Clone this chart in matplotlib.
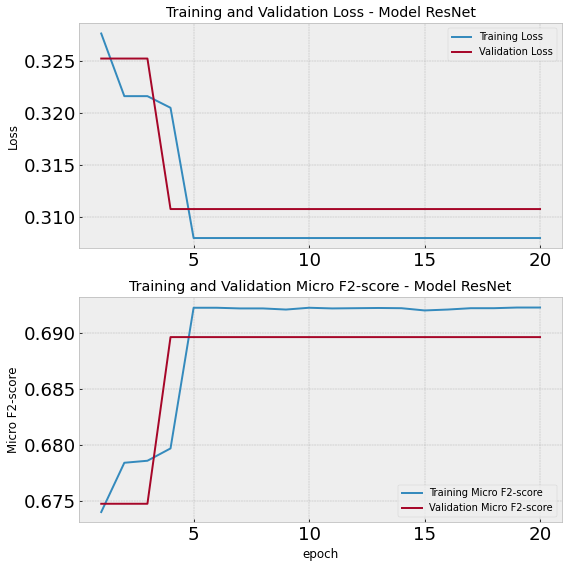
import matplotlib

matplotlib.use("Agg")
import matplotlib.pyplot as plt
from matplotlib.ticker import MultipleLocator


MODEL_NAME = "ResNet"
epochs = list(range(1, 21))

train_loss = [0.32763, 0.3216, 0.3216, 0.32048] + [0.30794] * 16
val_loss = [0.32522, 0.32522, 0.32522] + [0.31073] * 17

train_f2 = [
    0.67402, 0.67842, 0.6786, 0.6797, 0.69226,
    0.69226, 0.6922, 0.6922, 0.6921, 0.69226,
    0.6922, 0.69222, 0.69224, 0.69222, 0.69202,
    0.6921, 0.69222, 0.69222, 0.69228, 0.69228,
]
val_f2 = [0.67476, 0.67476, 0.67476] + [0.68964] * 17


def plot_panel(axis, train, val, metric, ylabel, legend_loc):
    axis.plot(epochs, train, label=f"Training {metric}")
    axis.plot(epochs, val, label=f"Validation {metric}")
    axis.set_title(f"Training and Validation {metric} - Model {MODEL_NAME}", fontsize=14.4)
    axis.set_ylabel(ylabel, fontsize=12)
    axis.xaxis.set_major_locator(MultipleLocator(5))
    axis.tick_params(axis="both", labelsize=18.5)
    axis.legend(loc=legend_loc, fontsize=10)


plt.style.use("bmh")
figure, axes = plt.subplots(2, 1, figsize=(8, 8), dpi=71)

plot_panel(axes[0], train_loss, val_loss, "Loss", "Loss", "upper right")
plot_panel(axes[1], train_f2, val_f2, "Micro F2-score", "Micro F2-score", "lower right")
axes[1].set_xlabel("epoch", fontsize=12)

figure.subplots_adjust(left=0.1396, right=0.9894, top=0.959, bottom=0.0805, hspace=0.218)
figure.savefig("out.png", dpi=71, facecolor="white")
